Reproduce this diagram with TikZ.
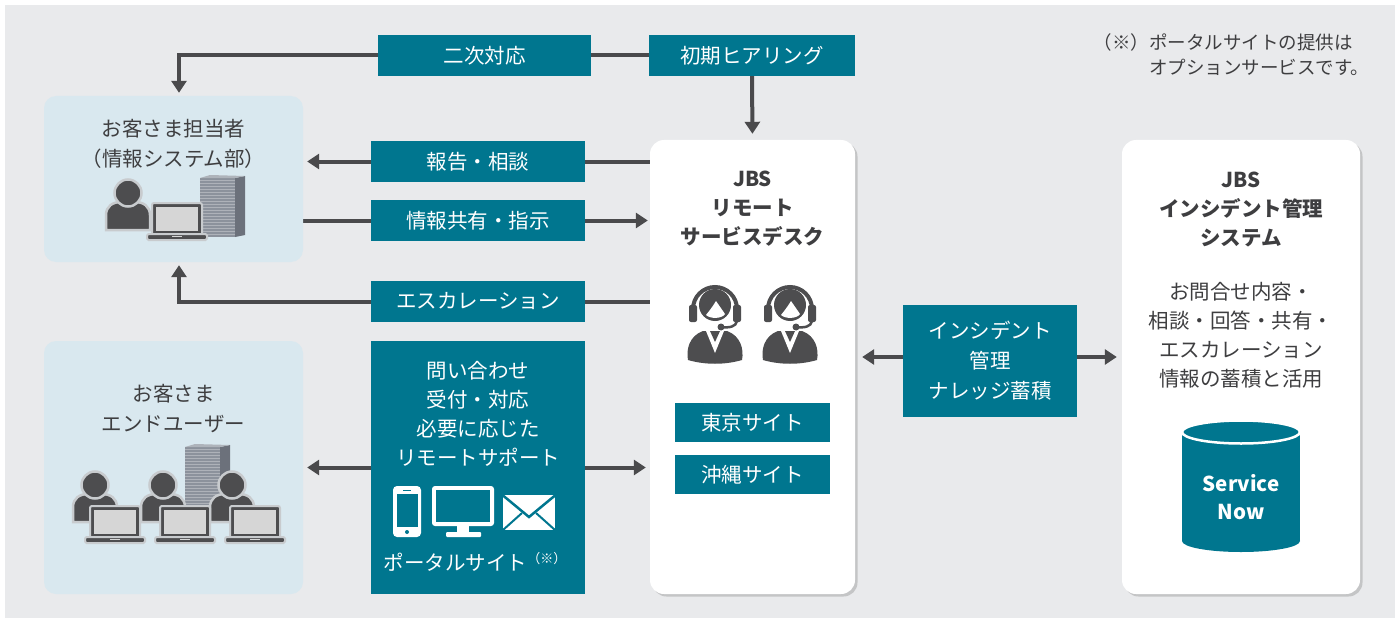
\documentclass[tikz,border=0pt]{standalone}
\usepackage{fontspec}
\setmainfont{Noto Sans CJK JP}
\usepackage{tikz}
\usetikzlibrary{arrows.meta}
\usetikzlibrary{positioning}
\usetikzlibrary{shadows}

\definecolor{jbsteal}{RGB}{0,118,143}
\definecolor{linkgray}{RGB}{74,74,76}
\definecolor{paper}{RGB}{233,234,236}
\definecolor{custblue}{RGB}{217,232,239}
\definecolor{inkgray}{RGB}{62,62,64}
\definecolor{icongray}{RGB}{77,77,79}
\definecolor{halogray}{RGB}{200,203,206}
\definecolor{screengray}{RGB}{214,214,214}
\definecolor{towerfront}{RGB}{140,146,156}
\definecolor{towerside}{RGB}{108,113,123}

\pgfdeclarelayer{back}
\pgfdeclarelayer{links}
\pgfsetlayers{back,links,main}

\tikzset{
  lbl/.style={fill=jbsteal, text=white, inner sep=0pt, align=center,
    font=\fontsize{20.5}{30}\selectfont},
  custbox/.style={fill=custblue, rounded corners=12pt, inner sep=0pt},
  panel/.style={fill=white, rounded corners=14pt, inner sep=0pt,
    drop shadow={shadow xshift=2.5pt, shadow yshift=-2.5pt, opacity=0.28, fill=black!60}},
  dtext/.style={text=inkgray, align=center, font=\fontsize{20.5}{30}\selectfont},
  wtext/.style={text=white, align=center, font=\fontsize{20.5}{29}\selectfont},
  title/.style={text=inkgray, align=center, font=\bfseries\fontsize{20.5}{29}\selectfont},
  link/.style={draw=linkgray, line width=4pt},
  tip/.tip={Triangle[length=12pt, width=15pt]},
  % small icons
  person/.pic={
    \filldraw[fill=icongray, draw=halogray, line width=2.5pt]
      (-22,0) -- (-22,-15) .. controls (-22,-24) and (-15,-28) .. (-7,-28)
      -- (7,-28) .. controls (15,-28) and (22,-24) .. (22,-15) -- (22,0) -- cycle;
    \filldraw[fill=icongray, draw=halogray, line width=2.5pt] (0,-37) circle (13.5);
  },
  laptop/.pic={
    \filldraw[fill=icongray, draw=halogray, line width=2pt, rounded corners=2pt]
      (-25,-5) rectangle (25,-37);
    \fill[screengray] (-21,-9) rectangle (21,-33);
    \filldraw[fill=icongray, draw=halogray, line width=2pt, rounded corners=1.5pt]
      (-30,0) rectangle (30,-6);
    \fill[screengray] (-5,-4.5) rectangle (5,-3);
  },
  tower/.pic={
    \fill[towerfront] (-22,0) rectangle (13,-59);
    \fill[towerside] (13,0) -- (23,-2) -- (23,-61) -- (13,-59) -- cycle;
    \fill[towerfront!70!white] (-22,-59) -- (13,-59) -- (23,-61) -- (-12,-62) -- cycle;
    \foreach \s in {3,6,...,57}
      \draw[white, opacity=0.3, line width=0.8pt] (-22,-\s) -- (13,-\s);
  },
  agent/.pic={
    \fill[icongray] (-27,38) .. controls (-29,28) and (-26,14) .. (-12,9)
      -- (12,9) .. controls (26,14) and (29,28) .. (27,38)
      .. controls (10,43) and (-10,43) .. (-27,38) -- cycle;
    \fill[white] (-9,9) -- (0,31) -- (9,9) -- cycle;
    \fill[icongray] (-5,9) -- (0,20) -- (5,9) -- cycle;
    \fill[icongray] (0,-17) circle (16);
    \fill[white] (1,-21) -- (10,-8) .. controls (7,-3) and (-5,-3) .. (-9,-7)
      .. controls (-5,-12) and (-2,-16) .. (1,-21) -- cycle;
    \draw[icongray, line width=4pt] (-22,-13) arc[start angle=180, end angle=360, radius=22];
    \fill[icongray, rounded corners=2pt] (-26,-17) rectangle (-18,0);
    \fill[icongray, rounded corners=2pt] (18,-17) rectangle (26,0);
    \draw[icongray, line width=2.5pt] (22,-1) .. controls (21,5) and (14,6) .. (6,5);
    \fill[icongray] (6,5) circle (3.5);
  }
}

\begin{document}
\begin{tikzpicture}[x=1pt, y=-1pt]
  \useasboundingbox (0,0) rectangle (1400,623);
  \begin{pgfonlayer}{back}
    \fill[white] (0,0) rectangle (1400,623);
    \fill[paper] (5,5) rectangle (1395,618);
  \end{pgfonlayer}

  % customer side
  \node[custbox, minimum width=259pt, minimum height=166pt] (staff) at (173.5,179) {};
  \node[dtext] (staffname) at (173.5,144) {お客さま担当者\\（情報システム部）};
  \pic at (222,237) {tower};
  \pic at (128,230) {person};
  \pic at (177,240) {laptop};

  \node[custbox, minimum width=259pt, minimum height=253pt] (users) at (173.5,467.5) {};
  \node[dtext] (usersname) at (173.5,408.5) {お客さま\\エンドユーザー};
  \pic at (207,506) {tower};
  \foreach \x in {95,163,232}
    \pic at (\x,522) {person};
  \foreach \x in {115,185,255}
    \pic at (\x,543) {laptop};

  % flow labels
  \node[lbl, minimum width=213pt, minimum height=41pt] (second) at (484.5,55.5) {二次対応};
  \node[lbl, minimum width=206pt, minimum height=41pt] (hearing) at (752,55.5) {初期ヒアリング};
  \node[lbl, minimum width=214pt, minimum height=41pt] (report) at (478,161.5) {報告・相談};
  \node[lbl, minimum width=214pt, minimum height=41pt] (share) at (478,220.5) {情報共有・指示};
  \node[lbl, minimum width=214pt, minimum height=41pt] (escal) at (478,301.5) {エスカレーション};

  % portal
  \node[lbl, minimum width=214pt, minimum height=253pt] (portal) at (478,467.5) {};
  \node[wtext] (portaltext) at (478,413.5) {問い合わせ\\受付・対応\\必要に応じた\\リモートサポート};
  \node[wtext] (portalname) at (475,562)
    {ポータルサイト\raisebox{7pt}{\fontsize{13}{13}\selectfont（※）}};
  % phone
  \fill[white, rounded corners=4pt] (393,486) rectangle (421,537);
  \fill[jbsteal] (396.5,494) rectangle (417.5,527);
  \fill[jbsteal] (403,489.5) rectangle (411,491);
  \fill[jbsteal] (407,532) circle (2);
  % monitor
  \fill[white, rounded corners=3pt] (432,486) rectangle (494,526);
  \fill[jbsteal] (436,490) rectangle (490,521.5);
  \fill[white] (457,525) rectangle (469,533);
  \fill[white, rounded corners=1pt] (446,532) rectangle (481,537);
  % mail
  \fill[white] (503,495) rectangle (555,530);
  \draw[jbsteal, line width=2.5pt] (503,495.5) -- (529,517) -- (555,495.5);
  \draw[jbsteal, line width=2pt] (503,530) -- (522,513);
  \draw[jbsteal, line width=2pt] (555,530) -- (536,513);

  % service desk
  \node[panel, minimum width=205pt, minimum height=454pt] (desk) at (752.5,367) {};
  \node[title] (desktitle) at (752.5,209) {JBS\\リモート\\サービスデスク};
  \pic at (715,322) {agent};
  \pic at (790,322) {agent};
  \node[lbl, minimum width=155pt, minimum height=39pt] (tokyo) at (752.5,422.5) {東京サイト};
  \node[lbl, minimum width=155pt, minimum height=39pt] (okinawa) at (752.5,474.5) {沖縄サイト};

  \node[lbl, minimum width=174pt, minimum height=112pt] (knowledge) at (990,361)
    {インシデント\\管理\\ナレッジ蓄積};

  % incident management system
  \node[panel, minimum width=238pt, minimum height=454pt] (system) at (1241,367) {};
  \node[title] (systitle) at (1241,209) {JBS\\インシデント管理\\システム};
  \node[dtext, font=\fontsize{20.5}{29}\selectfont] (sysbody) at (1241,335.5)
    {お問合せ内容・\\相談・回答・共有・\\エスカレーション\\情報の蓄積と活用};
  \fill[jbsteal] (1182,432) rectangle (1300,541);
  \fill[jbsteal] (1241,541) ellipse [x radius=59, y radius=11];
  \filldraw[fill=jbsteal, draw=white, line width=2.5pt] (1241,432) ellipse [x radius=59, y radius=11.5];
  \node[text=white, align=center, font=\bfseries\fontsize{20.5}{28}\selectfont]
    (snow) at (1241,497) {Service\\Now};

  % note
  \node[anchor=west, text=inkgray, font=\fontsize{18.5}{25}\selectfont] (note) at (1090,57.5)
    {\begin{tabular}{@{}l@{}l@{}}（※）&ポータルサイトの提供は\\&オプションサービスです。\end{tabular}};

  % connectors
  \begin{pgfonlayer}{links}
    \draw[link, -tip, shorten >=3pt] (hearing.west) -- ([xshift=5.5pt]staff.north |- hearing.west)
      -- ([xshift=5.5pt]staff.north);
    \draw[link, -tip, shorten >=6pt] (hearing.south) -- (desk.north);
    \draw[link, -tip, shorten >=4pt] (desk.west |- report) -- (staff.east |- report);
    \draw[link, -tip, shorten >=2pt] (staff.east |- share) -- (desk.west |- share);
    \draw[link, -tip, shorten >=3pt] (desk.west |- escal) -- ([xshift=5.5pt]staff.south |- escal)
      -- ([xshift=5.5pt]staff.south);
    \draw[link, tip-tip, shorten <=4pt, shorten >=4pt] (users.east) -- (desk.west |- users.east);
    \draw[link, tip-tip, shorten <=7pt, shorten >=5pt]
      ([yshift=4pt]desk.east |- knowledge) -- ([yshift=4pt]system.west |- knowledge);
  \end{pgfonlayer}
\end{tikzpicture}
\end{document}
